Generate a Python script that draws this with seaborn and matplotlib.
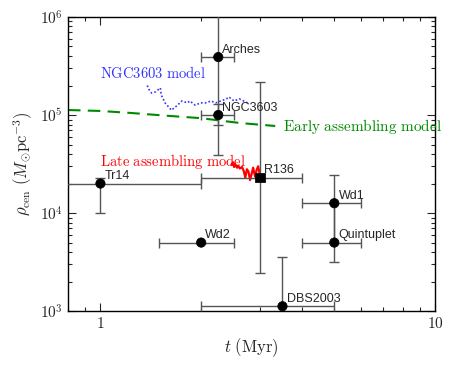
import numpy as np
import pandas as pd
import matplotlib
matplotlib.use("Agg")
import matplotlib.pyplot as plt
import seaborn as sns

# ---------------------------
# DATA
# ---------------------------
names = ["Arches", "NGC3603", "R136", "Tr14", "Wd2", "Wd1", "Quintuplet", "DBS2003"]
age = [2.25, 2.25, 3.0, 1.0, 2.0, 5.0, 5.0, 3.5]
age_lo = [2.0, 2.0, 2.0, 0.5, 1.5, 4.0, 4.0, 2.0]
age_hi = [2.5, 2.5, 4.0, 2.0, 2.5, 6.0, 6.0, 5.0]
rho = [3.9e5, 1.0e5, 2.3e4, 2.0e4, 5.0e3, 1.26e4, 5.0e3, 1.12e3]
rho_lo = [3.9e4, 7.9e4, 2.44e3, 1.0e4, 5.0e3, 5.0e3, 3.16e3, 5.0e2]
rho_hi = [2.0e6, 1.3e5, 2.17e5, 2.3e4, 5.0e3, 2.44e4, 1.26e4, 3.56e3]
marker = ["o", "o", "s", "o", "o", "o", "o", "o"]

ngc_t = [1.38, 1.40, 1.42, 1.46, 1.51, 1.52, 1.56, 1.63, 1.66, 1.70, 1.75, 1.82,
         1.85, 1.92, 1.99, 2.06, 2.14, 2.21, 2.29, 2.38, 2.42, 2.51, 2.60, 2.68, 2.75]
ngc_rho = [2.0e5, 1.80e5, 1.68e5, 1.72e5, 1.89e5, 1.60e5, 1.33e5, 1.12e5, 1.18e5,
           1.26e5, 1.39e5, 1.33e5, 1.39e5, 1.26e5, 1.33e5, 1.33e5, 1.39e5, 1.33e5,
           1.39e5, 1.46e5, 1.53e5, 1.39e5, 1.46e5, 1.39e5, 1.33e5]

late_t = [2.46, 2.49, 2.51, 2.53, 2.56, 2.58, 2.61, 2.65, 2.68, 2.71, 2.74, 2.77,
          2.80, 2.83, 2.86, 2.88, 2.90, 2.93, 2.96, 2.98, 3.00]
late_rho = [3.1e4, 3.3e4, 2.95e4, 3.15e4, 2.9e4, 3.05e4, 2.85e4, 2.95e4, 2.7e4,
            2.3e4, 2.8e4, 2.65e4, 2.17e4, 2.5e4, 2.9e4, 2.6e4, 2.35e4, 2.75e4,
            3.0e4, 2.7e4, 2.35e4]

early_t = [0.80, 1.0, 1.23, 1.62, 1.99, 2.62, 3.33]
early_rho = [1.125e5, 1.10e5, 1.05e5, 9.77e4, 9.3e4, 8.28e4, 7.73e4]

clusters = pd.DataFrame({"name": names, "t": age, "rho": rho, "marker": marker})

# ---------------------------
# STYLE
# ---------------------------
sns.set_style("ticks")
plt.rcParams["mathtext.fontset"] = "cm"
plt.rcParams["font.family"] = ["Liberation Sans", "DejaVu Sans"]
plt.rcParams["xtick.direction"] = "in"
plt.rcParams["ytick.direction"] = "in"

fig = plt.figure(figsize=(4.58, 3.66), dpi=100)
ax = fig.add_axes([0.1485, 0.150, 0.8013, 0.8036])

# ---------------------------
# MODEL CURVES
# ---------------------------
sns.lineplot(x=early_t, y=early_rho, ax=ax, color="#008a00", lw=1.5,
             linestyle=(0, (6, 3.5)), sort=False, estimator=None)
sns.lineplot(x=ngc_t, y=ngc_rho, ax=ax, color="#3333ff", lw=1.2,
             linestyle=(0, (1, 1.3)), sort=False, estimator=None)
sns.lineplot(x=late_t, y=late_rho, ax=ax, color="red", lw=1.6,
             sort=False, estimator=None)

# ---------------------------
# OBSERVED CLUSTERS
# ---------------------------
xerr = [np.array(age) - np.array(age_lo), np.array(age_hi) - np.array(age)]
yerr = [np.array(rho) - np.array(rho_lo), np.array(rho_hi) - np.array(rho)]
ax.errorbar(age, rho, xerr=xerr, yerr=yerr, fmt="none", ecolor="#555555",
            elinewidth=1.0, capsize=3.5, capthick=1.0, zorder=3)

sns.scatterplot(data=clusters, x="t", y="rho", style="marker",
                markers={"o": "o", "s": "s"}, color="black", s=45,
                edgecolor="black", legend=False, ax=ax, zorder=4)

for n, x, y in zip(names, age, rho):
    ax.annotate(n, (x, y), xytext=(3, 3), textcoords="offset points",
                fontsize=9, ha="left", va="baseline", zorder=5)

ax.text(1.0, 2.68e5, r"$\mathrm{NGC3603\ model}$", color="#3333ff",
        fontsize=10.5, va="center", ha="left")
ax.text(1.0, 3.35e4, r"$\mathrm{Late\ assembling\ model}$", color="red",
        fontsize=10.5, va="center", ha="left")
ax.text(3.52, 7.55e4, r"$\mathrm{Early\ assembling\ model}$", color="#008a00",
        fontsize=11, va="center", ha="left")

# ---------------------------
# AXES
# ---------------------------
ax.set_xscale("log")
ax.set_yscale("log")
ax.set_xlim(0.8, 10)
ax.set_ylim(1e3, 1e6)
ax.set_xticks([1, 10])
ax.set_xticklabels([r"$1$", r"$10$"])
ax.set_yticks([1e3, 1e4, 1e5, 1e6])
ax.set_yticklabels([r"$10^{3}$", r"$10^{4}$", r"$10^{5}$", r"$10^{6}$"])
ax.tick_params(which="both", top=True, right=True, labelsize=11, width=0.8)
ax.tick_params(which="major", length=6)
ax.tick_params(which="minor", length=3)
ax.set_xlabel(r"$t\ (\mathrm{Myr})$", fontsize=12)
ax.set_ylabel(r"$\rho_{\rm cen}\ (M_{\odot}{\rm pc}^{-3})$", fontsize=12)
for s in ax.spines.values():
    s.set_linewidth(1.0)
    s.set_color("black")

fig.savefig("out.png", dpi=100)
